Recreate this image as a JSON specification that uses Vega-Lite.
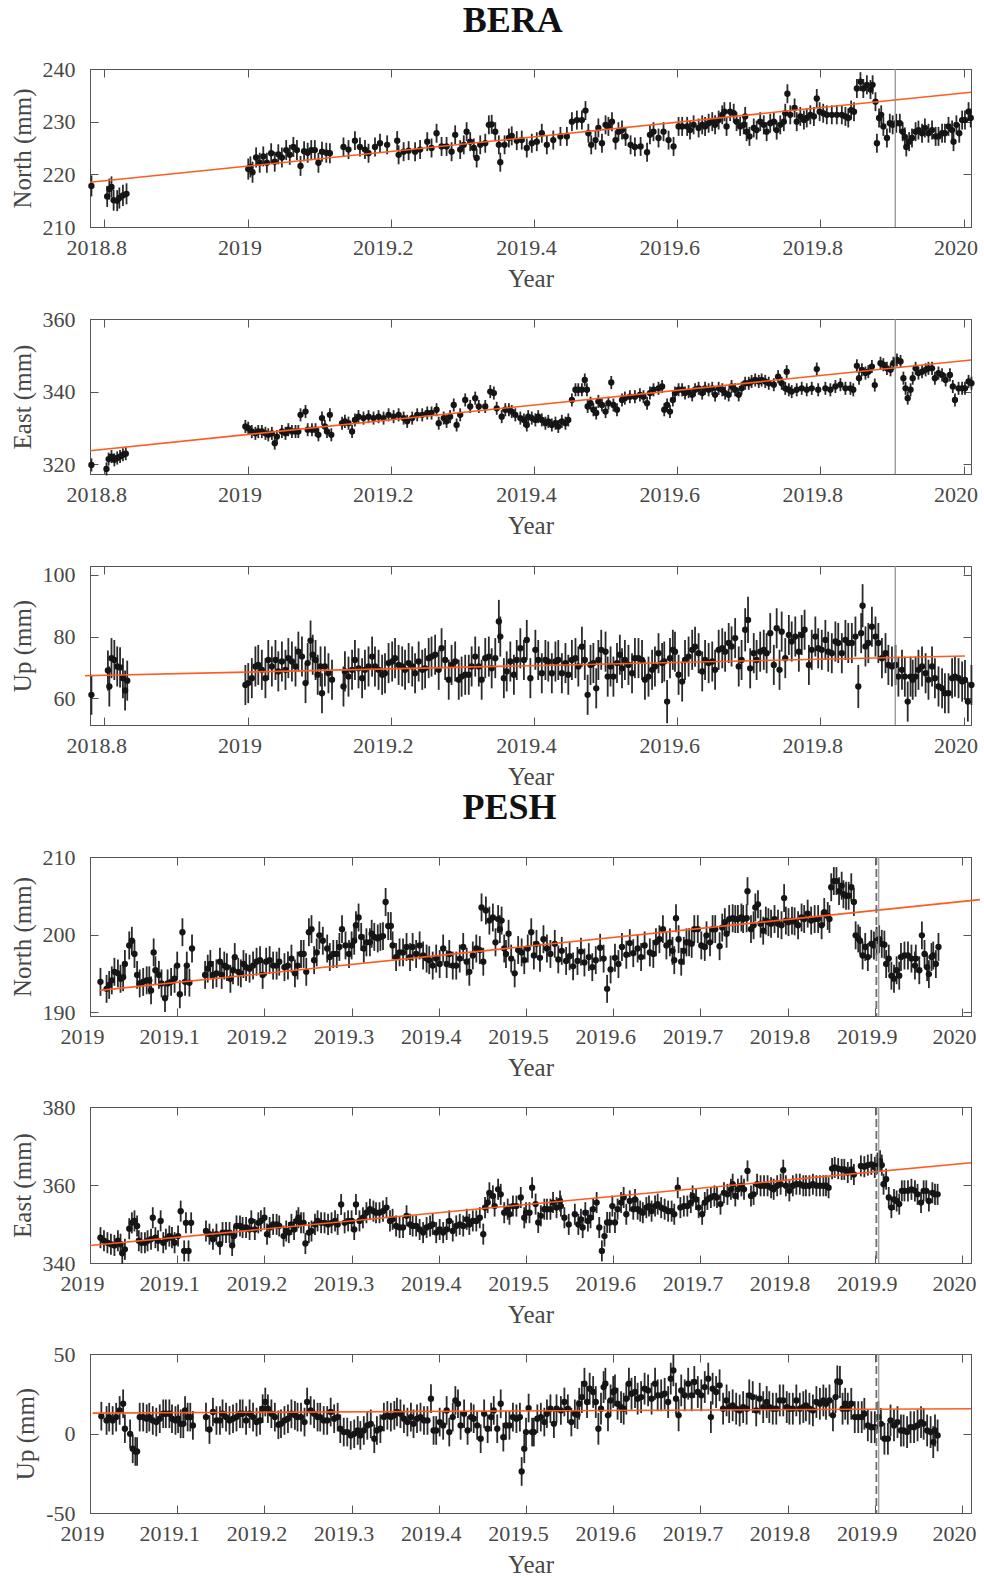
{
  "$schema": "https://vega.github.io/schema/vega-lite/v6.json",
  "background": "white",
  "padding": {"left": 9, "top": 2, "right": 0, "bottom": 0},
  "config": {
    "font": "Liberation Serif",
    "view": {"stroke": "#555555", "strokeWidth": 1},
    "axis": {
      "labelFont": "Liberation Serif", "titleFont": "Liberation Serif",
      "labelFontSize": 22, "titleFontSize": 25, "titleFontWeight": "normal",
      "labelColor": "#474747", "titleColor": "#474747",
      "domainColor": "#555555", "tickColor": "#555555", "tickWidth": 1, "tickSize": -8,
      "grid": false, "labelFlush": false, "labelOverlap": false, "labelBound": false
    },
    "axisX": {"labelPadding": 18, "labelOffset": -8, "titlePadding": 8},
    "axisY": {"labelPadding": 23, "titlePadding": 7},
    "title": {"font": "Liberation Serif", "fontSize": 36, "fontWeight": "bold", "color": "#111111", "anchor": "middle"}
  },
  "datasets": {
    "bn": [
      {"t":2018.782,"v":217.8,"s":2},{"t":2018.804,"v":215.8,"s":2},{"t":2018.807,"v":217.2,"s":2},{"t":2018.81,"v":217.6,"s":2},{"t":2018.813,"v":215.1,"s":2},{"t":2018.818,"v":215.0,"s":2},{"t":2018.821,"v":215.5,"s":2},{"t":2018.826,"v":216.0,"s":2},{"t":2018.831,"v":216.3,"s":2},
      {"t":2019.001,"v":221.0,"s":2},{"t":2019.004,"v":221.4,"s":2},{"t":2019.007,"v":220.4,"s":2},{"t":2019.012,"v":223.2,"s":1.9},{"t":2019.017,"v":222.2,"s":1.9},{"t":2019.022,"v":223.4,"s":1.9},{"t":2019.027,"v":222.2,"s":1.9},{"t":2019.033,"v":224.0,"s":1.9},{"t":2019.038,"v":222.4,"s":1.9},{"t":2019.043,"v":223.8,"s":1.9},{"t":2019.048,"v":223.2,"s":1.9},{"t":2019.054,"v":224.6,"s":1.9},{"t":2019.059,"v":223.7,"s":1.9},{"t":2019.064,"v":225.2,"s":1.9},{"t":2019.069,"v":224.6,"s":1.9},{"t":2019.074,"v":221.6,"s":1.9},{"t":2019.079,"v":224.4,"s":1.9},{"t":2019.084,"v":224.1,"s":1.9},{"t":2019.089,"v":224.6,"s":1.9},{"t":2019.094,"v":224.6,"s":1.9},{"t":2019.099,"v":222.2,"s":1.9},{"t":2019.104,"v":224.3,"s":1.9},{"t":2019.11,"v":224.1,"s":1.9},{"t":2019.115,"v":224.0,"s":1.9},
      {"t":2019.134,"v":225.2,"s":1.8},{"t":2019.141,"v":224.7,"s":1.8},{"t":2019.15,"v":226.4,"s":1.8},{"t":2019.157,"v":225.2,"s":1.8},{"t":2019.164,"v":224.7,"s":1.8},{"t":2019.169,"v":224.0,"s":1.8},{"t":2019.178,"v":225.2,"s":1.8},{"t":2019.185,"v":225.9,"s":1.8},{"t":2019.195,"v":225.6,"s":1.8},{"t":2019.209,"v":226.4,"s":1.8},{"t":2019.211,"v":223.7,"s":1.8},{"t":2019.218,"v":224.3,"s":1.8},{"t":2019.225,"v":224.5,"s":1.8},{"t":2019.234,"v":224.3,"s":1.8},{"t":2019.241,"v":224.7,"s":1.8},{"t":2019.251,"v":226.2,"s":1.8},{"t":2019.257,"v":225.0,"s":1.8},{"t":2019.264,"v":227.8,"s":1.8},{"t":2019.271,"v":225.3,"s":1.8},{"t":2019.278,"v":225.3,"s":1.8},{"t":2019.285,"v":224.3,"s":1.8},{"t":2019.29,"v":227.5,"s":1.8},{"t":2019.297,"v":224.7,"s":1.8},{"t":2019.302,"v":225.6,"s":1.8},{"t":2019.306,"v":228.1,"s":1.8},{"t":2019.311,"v":226.2,"s":1.8},{"t":2019.316,"v":225.0,"s":1.8},{"t":2019.32,"v":223.1,"s":1.8},{"t":2019.325,"v":225.6,"s":1.8},{"t":2019.332,"v":225.9,"s":1.8},{"t":2019.337,"v":229.4,"s":1.8},{"t":2019.341,"v":229.5,"s":1.8},{"t":2019.346,"v":228.1,"s":1.8},{"t":2019.351,"v":225.6,"s":1.8},{"t":2019.353,"v":222.3,"s":1.8},{"t":2019.359,"v":225.6,"s":1.8},{"t":2019.365,"v":226.9,"s":1.8},{"t":2019.369,"v":227.3,"s":1.8},{"t":2019.376,"v":226.4,"s":1.8},{"t":2019.383,"v":226.5,"s":1.8},{"t":2019.39,"v":225.0,"s":1.8},{"t":2019.397,"v":225.9,"s":1.8},{"t":2019.404,"v":226.2,"s":1.8},{"t":2019.411,"v":227.8,"s":1.8},{"t":2019.418,"v":225.6,"s":1.8},{"t":2019.427,"v":226.5,"s":1.8},{"t":2019.437,"v":227.2,"s":1.8},{"t":2019.446,"v":227.2,"s":1.8},{"t":2019.453,"v":230.0,"s":1.8},{"t":2019.46,"v":230.3,"s":1.8},{"t":2019.467,"v":230.3,"s":1.8},{"t":2019.472,"v":232.1,"s":1.8},{"t":2019.476,"v":227.8,"s":1.8},{"t":2019.48,"v":225.6,"s":1.8},{"t":2019.486,"v":226.5,"s":1.8},{"t":2019.49,"v":228.8,"s":1.8},{"t":2019.495,"v":225.9,"s":1.8},{"t":2019.5,"v":229.4,"s":1.8},{"t":2019.504,"v":229.1,"s":1.8},{"t":2019.509,"v":230.0,"s":1.8},{"t":2019.514,"v":226.5,"s":1.8},{"t":2019.518,"v":228.1,"s":1.8},{"t":2019.523,"v":228.4,"s":1.8},{"t":2019.528,"v":227.2,"s":1.8},{"t":2019.535,"v":225.6,"s":1.8},{"t":2019.541,"v":225.2,"s":1.8},{"t":2019.549,"v":225.3,"s":1.8},{"t":2019.558,"v":224.2,"s":1.8},{"t":2019.562,"v":227.5,"s":1.8},{"t":2019.567,"v":228.1,"s":1.8},{"t":2019.574,"v":226.9,"s":1.8},{"t":2019.581,"v":228.1,"s":1.8},{"t":2019.588,"v":226.5,"s":1.8},{"t":2019.595,"v":225.3,"s":1.8},{"t":2019.602,"v":229.1,"s":1.8},
      {"t":2019.607,"v":229.1,"s":1.8},{"t":2019.614,"v":229.1,"s":1.8},{"t":2019.618,"v":228.4,"s":1.8},{"t":2019.623,"v":229.4,"s":1.8},{"t":2019.63,"v":228.8,"s":1.8},{"t":2019.635,"v":229.4,"s":1.8},{"t":2019.639,"v":229.1,"s":1.8},{"t":2019.644,"v":229.7,"s":1.8},{"t":2019.649,"v":230.0,"s":1.8},{"t":2019.653,"v":229.4,"s":1.8},{"t":2019.658,"v":230.3,"s":1.8},{"t":2019.663,"v":231.3,"s":1.8},{"t":2019.666,"v":231.9,"s":1.8},{"t":2019.669,"v":229.1,"s":1.8},{"t":2019.674,"v":231.9,"s":1.8},{"t":2019.679,"v":231.6,"s":1.8},{"t":2019.683,"v":230.0,"s":1.8},{"t":2019.688,"v":229.1,"s":1.8},{"t":2019.693,"v":229.4,"s":1.8},{"t":2019.695,"v":231.0,"s":1.8},{"t":2019.697,"v":228.1,"s":1.8},{"t":2019.701,"v":227.2,"s":1.8},{"t":2019.707,"v":228.8,"s":1.8},{"t":2019.711,"v":228.4,"s":1.8},{"t":2019.716,"v":230.0,"s":1.8},{"t":2019.721,"v":229.4,"s":1.8},{"t":2019.725,"v":228.1,"s":1.8},{"t":2019.73,"v":229.7,"s":1.8},{"t":2019.735,"v":230.0,"s":1.8},{"t":2019.739,"v":228.4,"s":1.8},{"t":2019.744,"v":229.4,"s":1.8},{"t":2019.749,"v":230.0,"s":1.8},{"t":2019.751,"v":231.6,"s":1.8},{"t":2019.754,"v":235.3,"s":1.8},{"t":2019.758,"v":231.3,"s":1.8},{"t":2019.764,"v":232.6,"s":1.8},{"t":2019.767,"v":230.0,"s":1.8},{"t":2019.772,"v":231.0,"s":1.8},{"t":2019.777,"v":230.3,"s":1.8},{"t":2019.781,"v":230.7,"s":1.8},{"t":2019.786,"v":231.3,"s":1.8},{"t":2019.791,"v":231.0,"s":1.8},{"t":2019.795,"v":234.4,"s":1.8},{"t":2019.799,"v":231.9,"s":1.8},{"t":2019.804,"v":231.6,"s":1.8},{"t":2019.809,"v":231.3,"s":1.8},{"t":2019.816,"v":231.3,"s":1.8},{"t":2019.823,"v":231.3,"s":1.8},{"t":2019.83,"v":231.3,"s":1.8},{"t":2019.835,"v":231.0,"s":1.8},{"t":2019.839,"v":230.7,"s":1.8},{"t":2019.843,"v":232.2,"s":1.8},{"t":2019.847,"v":231.9,"s":1.8},{"t":2019.851,"v":236.3,"s":1.8},{"t":2019.856,"v":237.6,"s":1.8},{"t":2019.86,"v":236.3,"s":1.8},{"t":2019.865,"v":237.0,"s":1.8},{"t":2019.87,"v":236.1,"s":1.8},{"t":2019.873,"v":237.0,"s":1.8},{"t":2019.877,"v":233.8,"s":1.8},{"t":2019.879,"v":225.9,"s":1.8},{"t":2019.882,"v":230.7,"s":1.8},{"t":2019.885,"v":231.3,"s":1.8},{"t":2019.888,"v":229.1,"s":1.8},{"t":2019.893,"v":226.9,"s":1.8},{"t":2019.897,"v":229.7,"s":1.8},{"t":2019.901,"v":229.4,"s":1.8},{"t":2019.906,"v":229.7,"s":1.8},{"t":2019.911,"v":229.7,"s":1.8},{"t":2019.915,"v":228.1,"s":1.8},{"t":2019.918,"v":227.1,"s":1.8},{"t":2019.92,"v":225.2,"s":1.8},{"t":2019.924,"v":226.2,"s":1.8},{"t":2019.928,"v":226.9,"s":1.8},{"t":2019.933,"v":228.1,"s":1.8},{"t":2019.937,"v":228.4,"s":1.8},{"t":2019.942,"v":227.8,"s":1.8},{"t":2019.946,"v":228.8,"s":1.8},{"t":2019.951,"v":227.8,"s":1.8},{"t":2019.956,"v":228.4,"s":1.8},{"t":2019.961,"v":227.2,"s":1.8},{"t":2019.965,"v":227.2,"s":1.8},{"t":2019.97,"v":227.8,"s":1.8},{"t":2019.974,"v":227.8,"s":1.8},{"t":2019.979,"v":229.1,"s":1.8},{"t":2019.984,"v":228.4,"s":1.8},{"t":2019.986,"v":226.2,"s":1.8},{"t":2019.99,"v":229.4,"s":1.8},{"t":2019.994,"v":227.8,"s":1.8},{"t":2019.998,"v":230.3,"s":1.8},{"t":2020.002,"v":230.3,"s":1.8},{"t":2020.007,"v":231.9,"s":1.8},{"t":2020.01,"v":230.7,"s":1.8}
    ],
    "be": [
      {"t":2018.782,"v":319.8,"s":1.8},{"t":2018.803,"v":318.7,"s":1.8},{"t":2018.806,"v":321.4,"s":1.8},{"t":2018.81,"v":322.1,"s":1.8},{"t":2018.814,"v":321.2,"s":1.8},{"t":2018.818,"v":321.7,"s":1.8},{"t":2018.822,"v":322.1,"s":1.8},{"t":2018.826,"v":322.6,"s":1.8},{"t":2018.83,"v":322.9,"s":1.8},
      {"t":2018.997,"v":330.4,"s":1.8},{"t":2019.001,"v":329.9,"s":1.8},{"t":2019.006,"v":329.0,"s":1.8},{"t":2019.011,"v":328.5,"s":1.8},{"t":2019.015,"v":329.0,"s":1.8},{"t":2019.02,"v":329.0,"s":1.8},{"t":2019.025,"v":328.5,"s":1.8},{"t":2019.029,"v":328.1,"s":1.8},{"t":2019.034,"v":328.5,"s":1.8},{"t":2019.038,"v":325.8,"s":1.8},{"t":2019.041,"v":327.6,"s":1.8},{"t":2019.048,"v":329.0,"s":1.8},{"t":2019.053,"v":328.5,"s":1.8},{"t":2019.057,"v":329.5,"s":1.8},{"t":2019.062,"v":329.0,"s":1.8},{"t":2019.067,"v":329.0,"s":1.8},{"t":2019.071,"v":329.0,"s":1.8},{"t":2019.074,"v":333.6,"s":1.8},{"t":2019.081,"v":334.5,"s":1.8},{"t":2019.084,"v":329.5,"s":1.8},{"t":2019.09,"v":329.5,"s":1.8},{"t":2019.095,"v":329.5,"s":1.8},{"t":2019.099,"v":328.1,"s":1.8},{"t":2019.104,"v":332.7,"s":1.8},{"t":2019.108,"v":330.4,"s":1.8},{"t":2019.111,"v":329.0,"s":1.8},{"t":2019.115,"v":333.6,"s":1.8},{"t":2019.117,"v":328.1,"s":1.8},
      {"t":2019.132,"v":331.3,"s":1.8},{"t":2019.136,"v":331.8,"s":1.8},{"t":2019.141,"v":331.3,"s":1.8},{"t":2019.146,"v":329.0,"s":1.8},{"t":2019.15,"v":332.2,"s":1.8},{"t":2019.155,"v":333.1,"s":1.8},{"t":2019.162,"v":332.7,"s":1.8},{"t":2019.169,"v":333.1,"s":1.8},{"t":2019.176,"v":332.7,"s":1.8},{"t":2019.183,"v":333.1,"s":1.8},{"t":2019.19,"v":332.7,"s":1.8},{"t":2019.197,"v":333.6,"s":1.8},{"t":2019.204,"v":333.1,"s":1.8},{"t":2019.211,"v":333.6,"s":1.8},{"t":2019.218,"v":332.7,"s":1.8},{"t":2019.223,"v":331.8,"s":1.8},{"t":2019.23,"v":332.7,"s":1.8},{"t":2019.237,"v":333.6,"s":1.8},{"t":2019.244,"v":333.6,"s":1.8},{"t":2019.251,"v":334.1,"s":1.8},{"t":2019.257,"v":334.1,"s":1.8},{"t":2019.264,"v":335.0,"s":1.8},{"t":2019.267,"v":331.3,"s":1.8},{"t":2019.274,"v":332.7,"s":1.8},{"t":2019.278,"v":331.8,"s":1.8},{"t":2019.283,"v":333.1,"s":1.8},{"t":2019.288,"v":336.3,"s":1.8},{"t":2019.292,"v":330.8,"s":1.8},{"t":2019.297,"v":333.6,"s":1.8},{"t":2019.304,"v":337.7,"s":1.8},{"t":2019.311,"v":335.9,"s":1.8},{"t":2019.318,"v":338.2,"s":1.8},{"t":2019.323,"v":335.9,"s":1.8},{"t":2019.332,"v":335.9,"s":1.8},{"t":2019.339,"v":340.0,"s":1.8},{"t":2019.344,"v":339.6,"s":1.8},{"t":2019.348,"v":335.4,"s":1.8},{"t":2019.355,"v":333.1,"s":1.8},{"t":2019.36,"v":335.0,"s":1.8},{"t":2019.365,"v":335.0,"s":1.8},{"t":2019.369,"v":334.5,"s":1.8},{"t":2019.374,"v":333.6,"s":1.8},{"t":2019.381,"v":332.7,"s":1.8},{"t":2019.386,"v":332.2,"s":1.8},{"t":2019.39,"v":330.8,"s":1.8},
      {"t":2019.392,"v":333.1,"s":1.8},{"t":2019.397,"v":332.7,"s":1.8},{"t":2019.402,"v":332.2,"s":1.8},{"t":2019.406,"v":333.1,"s":1.8},{"t":2019.411,"v":332.2,"s":1.8},{"t":2019.416,"v":331.3,"s":1.8},{"t":2019.42,"v":331.8,"s":1.8},{"t":2019.425,"v":330.8,"s":1.8},{"t":2019.43,"v":331.3,"s":1.8},{"t":2019.434,"v":330.4,"s":1.8},{"t":2019.439,"v":331.8,"s":1.8},{"t":2019.444,"v":331.3,"s":1.8},{"t":2019.448,"v":332.2,"s":1.8},{"t":2019.453,"v":337.7,"s":1.8},{"t":2019.458,"v":340.5,"s":1.8},{"t":2019.462,"v":340.5,"s":1.8},{"t":2019.467,"v":340.5,"s":1.8},{"t":2019.471,"v":343.2,"s":1.8},{"t":2019.474,"v":340.5,"s":1.8},{"t":2019.475,"v":335.9,"s":1.8},{"t":2019.479,"v":336.8,"s":1.8},{"t":2019.483,"v":335.0,"s":1.8},{"t":2019.487,"v":334.1,"s":1.8},{"t":2019.49,"v":337.3,"s":1.8},{"t":2019.495,"v":336.3,"s":1.8},{"t":2019.5,"v":334.5,"s":1.8},{"t":2019.504,"v":336.8,"s":1.8},{"t":2019.508,"v":342.5,"s":1.8},{"t":2019.511,"v":336.3,"s":1.8},{"t":2019.516,"v":335.0,"s":1.8},{"t":2019.523,"v":337.7,"s":1.8},{"t":2019.527,"v":338.2,"s":1.8},{"t":2019.534,"v":338.6,"s":1.8},{"t":2019.541,"v":338.6,"s":1.8},{"t":2019.548,"v":339.1,"s":1.8},{"t":2019.553,"v":338.6,"s":1.8},{"t":2019.558,"v":336.8,"s":1.8},{"t":2019.562,"v":339.6,"s":1.8},{"t":2019.567,"v":340.5,"s":1.8},{"t":2019.574,"v":340.9,"s":1.8},{"t":2019.579,"v":341.4,"s":1.8},{"t":2019.582,"v":335.0,"s":1.8},{"t":2019.586,"v":336.3,"s":1.8},{"t":2019.59,"v":334.5,"s":1.8},{"t":2019.594,"v":337.7,"s":1.8},{"t":2019.597,"v":339.6,"s":1.8},{"t":2019.602,"v":340.5,"s":1.8},{"t":2019.607,"v":340.5,"s":1.8},{"t":2019.611,"v":339.6,"s":1.8},{"t":2019.616,"v":340.0,"s":1.8},{"t":2019.621,"v":339.1,"s":1.8},{"t":2019.625,"v":340.5,"s":1.8},{"t":2019.63,"v":340.9,"s":1.8},{"t":2019.635,"v":339.6,"s":1.8},{"t":2019.639,"v":340.9,"s":1.8},{"t":2019.644,"v":340.5,"s":1.8},{"t":2019.649,"v":340.9,"s":1.8},{"t":2019.653,"v":339.1,"s":1.8},{"t":2019.658,"v":340.9,"s":1.8},{"t":2019.663,"v":340.5,"s":1.8},{"t":2019.667,"v":339.6,"s":1.8},{"t":2019.672,"v":339.1,"s":1.8},{"t":2019.676,"v":341.4,"s":1.8},{"t":2019.681,"v":340.5,"s":1.8},{"t":2019.686,"v":339.1,"s":1.8},{"t":2019.69,"v":340.9,"s":1.8},{"t":2019.695,"v":342.3,"s":1.8},{"t":2019.7,"v":342.3,"s":1.8},{"t":2019.704,"v":342.8,"s":1.8},{"t":2019.709,"v":343.2,"s":1.8},{"t":2019.714,"v":342.8,"s":1.8},{"t":2019.718,"v":343.2,"s":1.8},{"t":2019.723,"v":342.8,"s":1.8},{"t":2019.728,"v":342.3,"s":1.8},{"t":2019.735,"v":341.9,"s":1.8},{"t":2019.741,"v":344.1,"s":1.8},{"t":2019.746,"v":342.3,"s":1.8},{"t":2019.751,"v":340.9,"s":1.8},{"t":2019.753,"v":345.5,"s":1.8},{"t":2019.756,"v":340.5,"s":1.8},{"t":2019.76,"v":340.0,"s":1.8},{"t":2019.767,"v":340.5,"s":1.8},{"t":2019.774,"v":340.9,"s":1.8},{"t":2019.781,"v":340.5,"s":1.8},{"t":2019.788,"v":340.9,"s":1.8},{"t":2019.795,"v":346.2,"s":1.8},{"t":2019.797,"v":340.5,"s":1.8},{"t":2019.807,"v":340.9,"s":1.8},{"t":2019.814,"v":340.5,"s":1.8},{"t":2019.821,"v":341.4,"s":1.8},{"t":2019.828,"v":341.9,"s":1.8},{"t":2019.835,"v":340.9,"s":1.8},{"t":2019.842,"v":340.9,"s":1.8},{"t":2019.846,"v":340.5,"s":1.8},{"t":2019.851,"v":347.1,"s":1.8},{"t":2019.854,"v":343.7,"s":1.8},{"t":2019.858,"v":346.0,"s":1.8},{"t":2019.863,"v":345.1,"s":1.8},{"t":2019.867,"v":345.5,"s":1.8},{"t":2019.872,"v":346.9,"s":1.8},{"t":2019.876,"v":341.8,"s":1.8},{"t":2019.884,"v":347.8,"s":1.8},{"t":2019.888,"v":347.4,"s":1.8},{"t":2019.893,"v":346.4,"s":1.8},{"t":2019.898,"v":346.0,"s":1.8},{"t":2019.902,"v":347.8,"s":1.8},{"t":2019.907,"v":348.7,"s":1.8},{"t":2019.912,"v":348.3,"s":1.8},{"t":2019.916,"v":343.7,"s":1.8},{"t":2019.919,"v":340.9,"s":1.8},{"t":2019.922,"v":338.2,"s":1.8},{"t":2019.926,"v":340.5,"s":1.8},{"t":2019.929,"v":343.7,"s":1.8},{"t":2019.933,"v":346.4,"s":1.8},{"t":2019.937,"v":345.1,"s":1.8},{"t":2019.942,"v":345.5,"s":1.8},{"t":2019.947,"v":346.0,"s":1.8},{"t":2019.951,"v":346.4,"s":1.8},{"t":2019.956,"v":346.4,"s":1.8},{"t":2019.96,"v":343.7,"s":1.8},{"t":2019.965,"v":345.1,"s":1.8},{"t":2019.97,"v":344.6,"s":1.8},{"t":2019.975,"v":343.2,"s":1.8},{"t":2019.981,"v":344.6,"s":1.8},{"t":2019.985,"v":341.4,"s":1.8},{"t":2019.988,"v":337.7,"s":1.8},{"t":2019.993,"v":340.9,"s":1.8},{"t":2019.998,"v":340.9,"s":1.8},{"t":2020.002,"v":340.9,"s":1.8},{"t":2020.007,"v":342.8,"s":1.8},{"t":2020.011,"v":342.3,"s":1.8}
    ],
    "bu": [
      {"t":2018.782,"v":61.1,"s":6.5},{"t":2018.805,"v":69.0,"s":6.5},{"t":2018.807,"v":63.8,"s":6.5},{"t":2018.81,"v":73.0,"s":6.5},{"t":2018.814,"v":72.4,"s":6.5},{"t":2018.818,"v":70.3,"s":6.5},{"t":2018.822,"v":70.0,"s":6.5},{"t":2018.826,"v":66.5,"s":6.5},{"t":2018.829,"v":62.5,"s":6.5},{"t":2018.832,"v":65.7,"s":6.5},
      {"t":2018.997,"v":64.3,"s":6.5},{"t":2019.001,"v":64.9,"s":6.5},{"t":2019.006,"v":66.5,"s":6.5},{"t":2019.011,"v":70.3,"s":6.5},{"t":2019.015,"v":70.8,"s":6.5},{"t":2019.02,"v":69.2,"s":6.5},{"t":2019.025,"v":66.5,"s":6.5},{"t":2019.029,"v":72.4,"s":6.5},{"t":2019.034,"v":70.3,"s":6.5},{"t":2019.039,"v":72.4,"s":6.5},{"t":2019.043,"v":68.7,"s":6.5},{"t":2019.048,"v":71.9,"s":6.5},{"t":2019.053,"v":69.2,"s":6.5},{"t":2019.057,"v":73.0,"s":6.5},{"t":2019.062,"v":71.9,"s":6.5},{"t":2019.067,"v":70.3,"s":6.5},{"t":2019.071,"v":75.1,"s":6.5},{"t":2019.076,"v":73.5,"s":6.5},{"t":2019.081,"v":64.9,"s":6.5},{"t":2019.084,"v":71.4,"s":6.5},{"t":2019.088,"v":78.7,"s":6.5},{"t":2019.091,"v":74.1,"s":6.5},{"t":2019.095,"v":72.4,"s":6.5},{"t":2019.098,"v":67.6,"s":6.5},{"t":2019.102,"v":70.3,"s":6.5},{"t":2019.104,"v":61.6,"s":6.5},{"t":2019.108,"v":70.3,"s":6.5},{"t":2019.113,"v":68.1,"s":6.5},{"t":2019.118,"v":66.0,"s":6.5},
      {"t":2019.134,"v":63.8,"s":6.5},{"t":2019.136,"v":68.7,"s":6.5},{"t":2019.141,"v":67.0,"s":6.5},{"t":2019.146,"v":69.2,"s":6.5},{"t":2019.15,"v":72.4,"s":6.5},{"t":2019.155,"v":69.7,"s":6.5},{"t":2019.16,"v":66.5,"s":6.5},{"t":2019.164,"v":69.2,"s":6.5},{"t":2019.169,"v":70.3,"s":6.5},{"t":2019.174,"v":73.5,"s":6.5},{"t":2019.178,"v":70.3,"s":6.5},{"t":2019.183,"v":69.2,"s":6.5},{"t":2019.188,"v":67.6,"s":6.5},{"t":2019.192,"v":68.1,"s":6.5},{"t":2019.197,"v":71.4,"s":6.5},{"t":2019.202,"v":71.9,"s":6.5},{"t":2019.206,"v":73.0,"s":6.5},{"t":2019.211,"v":70.8,"s":6.5},{"t":2019.216,"v":70.3,"s":6.5},{"t":2019.22,"v":69.2,"s":6.5},{"t":2019.225,"v":71.4,"s":6.5},{"t":2019.23,"v":70.3,"s":6.5},{"t":2019.234,"v":68.1,"s":6.5},{"t":2019.239,"v":71.9,"s":6.5},{"t":2019.244,"v":69.2,"s":6.5},{"t":2019.248,"v":69.7,"s":6.5},{"t":2019.253,"v":73.0,"s":6.5},{"t":2019.257,"v":73.5,"s":6.5},{"t":2019.262,"v":74.1,"s":6.5},{"t":2019.267,"v":69.2,"s":6.5},{"t":2019.271,"v":76.2,"s":6.5},{"t":2019.276,"v":72.4,"s":6.5},{"t":2019.281,"v":66.0,"s":6.5},{"t":2019.285,"v":70.8,"s":6.5},{"t":2019.29,"v":71.9,"s":6.5},{"t":2019.295,"v":66.0,"s":6.5},{"t":2019.299,"v":67.0,"s":6.5},{"t":2019.304,"v":67.6,"s":6.5},{"t":2019.309,"v":67.6,"s":6.5},{"t":2019.313,"v":70.3,"s":6.5},{"t":2019.318,"v":73.5,"s":6.5},{"t":2019.323,"v":70.3,"s":6.5},{"t":2019.327,"v":66.0,"s":6.5},{"t":2019.332,"v":73.0,"s":6.5},{"t":2019.337,"v":73.5,"s":6.5},{"t":2019.341,"v":69.7,"s":6.5},{"t":2019.346,"v":73.0,"s":6.5},{"t":2019.351,"v":84.9,"s":7},{"t":2019.353,"v":80.0,"s":6.5},{"t":2019.358,"v":66.5,"s":6.5},{"t":2019.362,"v":68.7,"s":6.5},{"t":2019.367,"v":71.9,"s":6.5},{"t":2019.372,"v":67.6,"s":6.5},{"t":2019.376,"v":72.4,"s":6.5},{"t":2019.381,"v":76.2,"s":6.5},{"t":2019.386,"v":72.4,"s":6.5},{"t":2019.39,"v":78.9,"s":6.5},{"t":2019.395,"v":66.5,"s":6.5},
      {"t":2019.402,"v":75.7,"s":6.5},{"t":2019.406,"v":72.4,"s":6.5},{"t":2019.411,"v":68.1,"s":6.5},{"t":2019.416,"v":72.4,"s":6.5},{"t":2019.42,"v":71.9,"s":6.5},{"t":2019.425,"v":68.1,"s":6.5},{"t":2019.43,"v":71.9,"s":6.5},{"t":2019.434,"v":72.4,"s":6.5},{"t":2019.439,"v":68.1,"s":6.5},{"t":2019.444,"v":71.4,"s":6.5},{"t":2019.448,"v":67.6,"s":6.5},{"t":2019.453,"v":72.4,"s":6.5},{"t":2019.458,"v":73.0,"s":6.5},{"t":2019.462,"v":70.3,"s":6.5},{"t":2019.467,"v":76.7,"s":6.5},{"t":2019.471,"v":72.4,"s":6.5},{"t":2019.475,"v":61.1,"s":6.5},{"t":2019.479,"v":70.8,"s":6.5},{"t":2019.483,"v":71.4,"s":6.5},{"t":2019.487,"v":63.2,"s":6.5},{"t":2019.49,"v":72.4,"s":6.5},{"t":2019.494,"v":75.7,"s":6.5},{"t":2019.5,"v":75.1,"s":6.5},{"t":2019.503,"v":67.0,"s":6.5},{"t":2019.507,"v":70.3,"s":6.5},{"t":2019.511,"v":67.0,"s":6.5},{"t":2019.516,"v":71.4,"s":6.5},{"t":2019.52,"v":74.1,"s":6.5},{"t":2019.523,"v":69.7,"s":6.5},{"t":2019.527,"v":72.4,"s":6.5},{"t":2019.532,"v":70.8,"s":6.5},{"t":2019.537,"v":68.1,"s":6.5},{"t":2019.541,"v":73.0,"s":6.5},{"t":2019.546,"v":73.0,"s":6.5},{"t":2019.551,"v":72.4,"s":6.5},{"t":2019.555,"v":66.0,"s":6.5},{"t":2019.56,"v":67.0,"s":6.5},{"t":2019.565,"v":69.2,"s":6.5},{"t":2019.569,"v":70.3,"s":6.5},{"t":2019.574,"v":74.6,"s":6.5},{"t":2019.579,"v":71.4,"s":6.5},{"t":2019.582,"v":71.9,"s":6.5},{"t":2019.586,"v":58.9,"s":7},{"t":2019.59,"v":73.0,"s":6.5},{"t":2019.594,"v":75.7,"s":6.5},{"t":2019.597,"v":75.1,"s":6.5},{"t":2019.602,"v":67.6,"s":6.5},{"t":2019.607,"v":65.4,"s":6.5},{"t":2019.611,"v":72.4,"s":6.5},{"t":2019.616,"v":73.5,"s":6.5},{"t":2019.621,"v":75.7,"s":6.5},{"t":2019.625,"v":76.7,"s":6.5},{"t":2019.63,"v":74.6,"s":6.5},{"t":2019.635,"v":68.7,"s":6.5},{"t":2019.639,"v":72.4,"s":6.5},{"t":2019.644,"v":71.4,"s":6.5},{"t":2019.649,"v":71.9,"s":6.5},{"t":2019.653,"v":69.2,"s":6.5},{"t":2019.658,"v":75.7,"s":6.5},{"t":2019.663,"v":76.2,"s":6.5},{"t":2019.667,"v":75.1,"s":6.5},{"t":2019.672,"v":77.9,"s":6.5},{"t":2019.676,"v":76.8,"s":6.5},{"t":2019.681,"v":79.5,"s":6.5},{"t":2019.686,"v":70.3,"s":6.5},{"t":2019.69,"v":72.4,"s":6.5},{"t":2019.695,"v":82.2,"s":7},{"t":2019.699,"v":85.4,"s":7.5},{"t":2019.702,"v":69.7,"s":6.5},{"t":2019.707,"v":74.6,"s":6.5},{"t":2019.711,"v":72.4,"s":6.5},{"t":2019.716,"v":75.1,"s":6.5},{"t":2019.721,"v":75.7,"s":6.5},{"t":2019.725,"v":74.6,"s":6.5},{"t":2019.73,"v":81.1,"s":6.5},{"t":2019.735,"v":70.8,"s":6.5},{"t":2019.739,"v":82.7,"s":6.5},{"t":2019.743,"v":69.2,"s":6.5},{"t":2019.746,"v":81.6,"s":6.5},{"t":2019.751,"v":73.0,"s":6.5},{"t":2019.756,"v":80.5,"s":6.5},{"t":2019.76,"v":78.4,"s":6.5},{"t":2019.765,"v":80.0,"s":6.5},{"t":2019.77,"v":75.1,"s":6.5},{"t":2019.774,"v":80.5,"s":6.5},{"t":2019.778,"v":82.2,"s":6.5},{"t":2019.784,"v":70.8,"s":6.5},{"t":2019.788,"v":75.7,"s":6.5},{"t":2019.793,"v":80.0,"s":6.5},{"t":2019.797,"v":76.2,"s":6.5},{"t":2019.802,"v":75.7,"s":6.5},{"t":2019.807,"v":78.9,"s":6.5},{"t":2019.811,"v":75.1,"s":6.5},{"t":2019.816,"v":74.6,"s":6.5},{"t":2019.821,"v":78.4,"s":6.5},{"t":2019.825,"v":77.9,"s":6.5},{"t":2019.83,"v":74.6,"s":6.5},{"t":2019.835,"v":78.9,"s":6.5},{"t":2019.839,"v":77.9,"s":6.5},{"t":2019.844,"v":77.9,"s":6.5},{"t":2019.849,"v":80.0,"s":6.5},{"t":2019.853,"v":63.8,"s":7},{"t":2019.857,"v":81.1,"s":6.5},{"t":2019.859,"v":90.0,"s":7},{"t":2019.863,"v":76.8,"s":6.5},{"t":2019.867,"v":77.9,"s":6.5},{"t":2019.872,"v":83.2,"s":6.5},{"t":2019.877,"v":80.0,"s":6.5},{"t":2019.881,"v":77.9,"s":6.5},{"t":2019.886,"v":73.0,"s":6.5},{"t":2019.891,"v":74.6,"s":6.5},{"t":2019.895,"v":70.8,"s":6.5},{"t":2019.9,"v":70.3,"s":6.5},{"t":2019.905,"v":70.8,"s":6.5},{"t":2019.909,"v":67.0,"s":6.5},{"t":2019.914,"v":69.2,"s":6.5},{"t":2019.918,"v":67.0,"s":6.5},{"t":2019.922,"v":58.9,"s":6.5},{"t":2019.926,"v":67.0,"s":6.5},{"t":2019.929,"v":66.0,"s":6.5},{"t":2019.933,"v":67.0,"s":6.5},{"t":2019.937,"v":69.2,"s":6.5},{"t":2019.942,"v":70.3,"s":6.5},{"t":2019.947,"v":68.1,"s":6.5},{"t":2019.951,"v":66.0,"s":6.5},{"t":2019.956,"v":70.3,"s":6.5},{"t":2019.96,"v":66.5,"s":6.5},{"t":2019.965,"v":63.8,"s":6.5},{"t":2019.97,"v":63.2,"s":6.5},{"t":2019.974,"v":61.6,"s":6.5},{"t":2019.979,"v":61.6,"s":6.5},{"t":2019.984,"v":66.5,"s":6.5},{"t":2019.988,"v":67.0,"s":6.5},{"t":2019.993,"v":66.5,"s":6.5},{"t":2019.998,"v":65.4,"s":6.5},{"t":2020.002,"v":65.9,"s":6.5},{"t":2020.006,"v":58.9,"s":6.5},{"t":2020.011,"v":64.3,"s":6.5}
    ],
    "pn": [
      {"t":2019.012,"v":193.9,"s":1.8},{"t":2019.019,"v":193.0,"s":1.8},{"t":2019.022,"v":193.5,"s":1.8},{"t":2019.025,"v":194.1,"s":1.8},{"t":2019.028,"v":195.2,"s":1.8},{"t":2019.032,"v":195.0,"s":1.8},{"t":2019.035,"v":194.3,"s":1.8},{"t":2019.038,"v":194.5,"s":1.8},{"t":2019.04,"v":196.2,"s":1.8},{"t":2019.045,"v":198.6,"s":1.8},{"t":2019.048,"v":199.2,"s":1.8},{"t":2019.051,"v":197.5,"s":1.8},{"t":2019.054,"v":194.8,"s":1.8},{"t":2019.057,"v":193.7,"s":1.8},{"t":2019.061,"v":193.9,"s":1.8},{"t":2019.065,"v":194.1,"s":1.8},{"t":2019.068,"v":194.1,"s":1.8},{"t":2019.07,"v":192.8,"s":1.8},{"t":2019.073,"v":197.7,"s":1.8},{"t":2019.075,"v":195.4,"s":1.8},{"t":2019.079,"v":194.8,"s":1.8},{"t":2019.082,"v":193.7,"s":1.8},{"t":2019.086,"v":191.8,"s":1.8},{"t":2019.089,"v":193.7,"s":1.8},{"t":2019.093,"v":193.9,"s":1.8},{"t":2019.097,"v":194.3,"s":1.8},{"t":2019.1,"v":196.0,"s":1.8},{"t":2019.103,"v":192.3,"s":1.8},{"t":2019.106,"v":200.3,"s":1.8},{"t":2019.109,"v":193.9,"s":1.8},{"t":2019.111,"v":196.0,"s":1.8},{"t":2019.114,"v":193.8,"s":1.8},{"t":2019.117,"v":198.2,"s":1.8},
      {"t":2019.132,"v":194.8,"s":1.8},{"t":2019.135,"v":195.6,"s":1.8},{"t":2019.138,"v":196.2,"s":1.8},{"t":2019.141,"v":194.8,"s":1.8},{"t":2019.145,"v":195.0,"s":1.8},{"t":2019.149,"v":196.5,"s":1.8},{"t":2019.151,"v":194.8,"s":1.8},{"t":2019.154,"v":196.0,"s":1.8},{"t":2019.157,"v":195.8,"s":1.8},{"t":2019.161,"v":194.3,"s":1.8},{"t":2019.164,"v":195.4,"s":1.8},{"t":2019.166,"v":197.1,"s":1.8},{"t":2019.17,"v":195.2,"s":1.8},{"t":2019.173,"v":195.0,"s":1.8},{"t":2019.176,"v":196.2,"s":1.8},{"t":2019.179,"v":195.8,"s":1.8},{"t":2019.183,"v":195.6,"s":1.8},{"t":2019.187,"v":196.0,"s":1.8},{"t":2019.191,"v":196.5,"s":1.8},{"t":2019.195,"v":196.7,"s":1.8},{"t":2019.198,"v":194.8,"s":1.8},{"t":2019.202,"v":196.5,"s":1.8},{"t":2019.206,"v":196.7,"s":1.8},{"t":2019.21,"v":196.0,"s":1.8},{"t":2019.214,"v":196.0,"s":1.8},{"t":2019.217,"v":196.5,"s":1.8},{"t":2019.223,"v":195.8,"s":1.8},{"t":2019.227,"v":196.0,"s":1.8},{"t":2019.231,"v":196.9,"s":1.8},{"t":2019.235,"v":195.0,"s":1.8},{"t":2019.238,"v":196.0,"s":1.8},{"t":2019.242,"v":197.5,"s":1.8},{"t":2019.245,"v":197.5,"s":1.8},{"t":2019.248,"v":195.2,"s":1.8},{"t":2019.251,"v":200.3,"s":1.8},{"t":2019.254,"v":200.7,"s":1.8},{"t":2019.257,"v":196.7,"s":1.8},{"t":2019.26,"v":197.7,"s":1.8},{"t":2019.263,"v":199.9,"s":1.8},{"t":2019.267,"v":199.2,"s":1.8},{"t":2019.272,"v":198.2,"s":1.8},{"t":2019.275,"v":197.1,"s":1.8},{"t":2019.279,"v":197.5,"s":1.8},{"t":2019.283,"v":197.5,"s":1.8},{"t":2019.286,"v":198.4,"s":1.8},{"t":2019.289,"v":200.7,"s":1.8},{"t":2019.293,"v":198.6,"s":1.8},{"t":2019.297,"v":197.5,"s":1.8},{"t":2019.3,"v":198.6,"s":1.8},{"t":2019.303,"v":199.2,"s":1.8},{"t":2019.305,"v":201.2,"s":1.8},{"t":2019.308,"v":202.2,"s":1.8},{"t":2019.311,"v":199.7,"s":1.8},{"t":2019.314,"v":198.2,"s":1.8},{"t":2019.317,"v":199.0,"s":1.8},{"t":2019.321,"v":199.0,"s":1.8},{"t":2019.323,"v":200.1,"s":1.8},{"t":2019.326,"v":199.7,"s":1.8},{"t":2019.33,"v":199.5,"s":1.8},{"t":2019.333,"v":199.7,"s":1.8},{"t":2019.336,"v":199.8,"s":1.8},{"t":2019.339,"v":204.2,"s":1.8},{"t":2019.342,"v":201.1,"s":1.8},{"t":2019.345,"v":201.1,"s":1.8},{"t":2019.347,"v":198.6,"s":1.8},{"t":2019.351,"v":197.1,"s":1.8},{"t":2019.355,"v":197.7,"s":1.8},{"t":2019.359,"v":197.7,"s":1.8},{"t":2019.363,"v":198.4,"s":1.8},{"t":2019.367,"v":197.1,"s":1.8},{"t":2019.37,"v":198.4,"s":1.8},{"t":2019.374,"v":197.5,"s":1.8},{"t":2019.378,"v":198.6,"s":1.8},{"t":2019.382,"v":197.3,"s":1.8},{"t":2019.386,"v":196.9,"s":1.8},{"t":2019.389,"v":196.7,"s":1.8},{"t":2019.393,"v":196.0,"s":1.8},{"t":2019.397,"v":196.9,"s":1.8},{"t":2019.401,"v":196.2,"s":1.8},{"t":2019.405,"v":198.2,"s":1.8},{"t":2019.409,"v":196.2,"s":1.8},{"t":2019.412,"v":197.5,"s":1.8},{"t":2019.416,"v":196.0,"s":1.8},{"t":2019.42,"v":196.0,"s":1.8},{"t":2019.424,"v":196.9,"s":1.8},{"t":2019.428,"v":198.4,"s":1.8},{"t":2019.432,"v":196.5,"s":1.8},{"t":2019.435,"v":195.2,"s":1.8},{"t":2019.439,"v":197.3,"s":1.8},{"t":2019.443,"v":198.2,"s":1.8},{"t":2019.447,"v":198.0,"s":1.8},{"t":2019.449,"v":203.5,"s":1.8},{"t":2019.451,"v":196.5,"s":1.8},{"t":2019.454,"v":203.1,"s":1.8},{"t":2019.458,"v":201.8,"s":1.8},{"t":2019.462,"v":202.2,"s":1.8},{"t":2019.465,"v":199.0,"s":1.8},{"t":2019.468,"v":202.0,"s":1.8},{"t":2019.47,"v":200.7,"s":1.8},{"t":2019.472,"v":201.8,"s":1.8},{"t":2019.475,"v":198.2,"s":1.8},{"t":2019.477,"v":197.5,"s":1.8},{"t":2019.48,"v":200.1,"s":1.8},{"t":2019.483,"v":196.9,"s":1.8},{"t":2019.487,"v":195.0,"s":1.8},{"t":2019.491,"v":198.0,"s":1.8},{"t":2019.495,"v":197.7,"s":1.8},{"t":2019.498,"v":196.7,"s":1.8},{"t":2019.502,"v":198.2,"s":1.8},{"t":2019.506,"v":200.3,"s":1.8},{"t":2019.509,"v":197.3,"s":1.8},
      {"t":2019.512,"v":198.8,"s":1.8},{"t":2019.516,"v":197.0,"s":1.8},{"t":2019.52,"v":199.4,"s":1.8},{"t":2019.524,"v":198.2,"s":1.8},{"t":2019.528,"v":197.5,"s":1.8},{"t":2019.533,"v":198.8,"s":1.8},{"t":2019.537,"v":196.8,"s":1.8},{"t":2019.541,"v":197.9,"s":1.8},{"t":2019.546,"v":196.6,"s":1.8},{"t":2019.55,"v":197.2,"s":1.8},{"t":2019.554,"v":195.9,"s":1.8},{"t":2019.559,"v":196.6,"s":1.8},{"t":2019.563,"v":197.8,"s":1.8},{"t":2019.567,"v":196.4,"s":1.8},{"t":2019.572,"v":197.1,"s":1.8},{"t":2019.576,"v":195.8,"s":1.8},{"t":2019.58,"v":196.7,"s":1.8},{"t":2019.585,"v":198.3,"s":1.8},{"t":2019.589,"v":196.9,"s":1.8},{"t":2019.593,"v":193.0,"s":1.8},{"t":2019.597,"v":195.5,"s":1.8},{"t":2019.602,"v":197.0,"s":1.8},{"t":2019.606,"v":196.2,"s":1.8},{"t":2019.61,"v":198.4,"s":1.8},{"t":2019.615,"v":197.4,"s":1.8},{"t":2019.619,"v":198.9,"s":1.8},{"t":2019.623,"v":197.6,"s":1.8},{"t":2019.628,"v":198.2,"s":1.8},{"t":2019.632,"v":197.1,"s":1.8},{"t":2019.636,"v":198.6,"s":1.8},
      {"t":2019.642,"v":197.7,"s":1.8},{"t":2019.646,"v":197.5,"s":1.8},{"t":2019.649,"v":199.0,"s":1.8},{"t":2019.653,"v":199.4,"s":1.8},{"t":2019.657,"v":200.7,"s":1.8},{"t":2019.661,"v":198.6,"s":1.8},{"t":2019.665,"v":199.0,"s":1.8},{"t":2019.668,"v":197.9,"s":1.8},{"t":2019.67,"v":196.7,"s":1.8},{"t":2019.672,"v":202.1,"s":1.8},{"t":2019.675,"v":199.4,"s":1.8},{"t":2019.678,"v":196.5,"s":1.8},{"t":2019.681,"v":197.9,"s":1.8},{"t":2019.684,"v":199.0,"s":1.8},{"t":2019.687,"v":199.0,"s":1.8},{"t":2019.69,"v":198.8,"s":1.8},{"t":2019.693,"v":200.7,"s":1.8},{"t":2019.697,"v":200.7,"s":1.8},{"t":2019.701,"v":198.6,"s":1.8},{"t":2019.705,"v":198.4,"s":1.8},{"t":2019.707,"v":199.9,"s":1.8},{"t":2019.711,"v":199.0,"s":1.8},{"t":2019.714,"v":200.7,"s":1.8},{"t":2019.717,"v":200.7,"s":1.8},{"t":2019.722,"v":198.5,"s":1.8},{"t":2019.725,"v":200.9,"s":1.8},{"t":2019.728,"v":201.6,"s":1.8},{"t":2019.73,"v":200.1,"s":1.8},{"t":2019.733,"v":202.0,"s":1.8},{"t":2019.737,"v":202.1,"s":1.8},{"t":2019.74,"v":202.0,"s":1.8},{"t":2019.743,"v":202.0,"s":1.8},{"t":2019.747,"v":202.2,"s":1.8},{"t":2019.749,"v":202.0,"s":1.8},{"t":2019.753,"v":202.1,"s":1.8},{"t":2019.754,"v":205.6,"s":1.8},{"t":2019.758,"v":200.7,"s":1.8},{"t":2019.761,"v":201.2,"s":1.8},{"t":2019.763,"v":203.5,"s":1.8},{"t":2019.766,"v":203.9,"s":1.8},{"t":2019.769,"v":201.4,"s":1.8},{"t":2019.772,"v":200.5,"s":1.8},{"t":2019.775,"v":201.8,"s":1.8},{"t":2019.778,"v":201.6,"s":1.8},{"t":2019.781,"v":201.4,"s":1.8},{"t":2019.785,"v":202.0,"s":1.8},{"t":2019.789,"v":201.4,"s":1.8},{"t":2019.793,"v":201.2,"s":1.8},{"t":2019.796,"v":204.7,"s":1.8},{"t":2019.798,"v":201.8,"s":1.8},{"t":2019.801,"v":201.6,"s":1.8},{"t":2019.805,"v":201.8,"s":1.8},{"t":2019.808,"v":201.7,"s":1.8},{"t":2019.812,"v":201.2,"s":1.8},{"t":2019.816,"v":202.2,"s":1.8},{"t":2019.819,"v":202.0,"s":1.8},{"t":2019.823,"v":202.7,"s":1.8},{"t":2019.827,"v":201.8,"s":1.8},{"t":2019.831,"v":202.0,"s":1.8},{"t":2019.835,"v":202.0,"s":1.8},{"t":2019.839,"v":201.2,"s":1.8},{"t":2019.842,"v":202.9,"s":1.8},{"t":2019.846,"v":202.4,"s":1.8},{"t":2019.848,"v":202.0,"s":1.8},{"t":2019.85,"v":206.1,"s":1.8},{"t":2019.853,"v":206.9,"s":1.8},{"t":2019.856,"v":206.9,"s":1.8},{"t":2019.859,"v":205.6,"s":1.8},{"t":2019.862,"v":206.3,"s":1.8},{"t":2019.864,"v":205.2,"s":1.8},{"t":2019.867,"v":205.0,"s":1.8},{"t":2019.87,"v":205.0,"s":1.8},{"t":2019.873,"v":206.1,"s":1.8},{"t":2019.876,"v":204.2,"s":1.8},{"t":2019.878,"v":199.9,"s":1.8},{"t":2019.881,"v":199.5,"s":1.8},{"t":2019.883,"v":199.2,"s":1.8},{"t":2019.886,"v":197.3,"s":1.8},{"t":2019.889,"v":198.4,"s":1.8},{"t":2019.892,"v":197.1,"s":1.8},{"t":2019.896,"v":198.8,"s":1.8},{"t":2019.899,"v":198.6,"s":1.8},{"t":2019.902,"v":199.2,"s":1.8},{"t":2019.905,"v":199.4,"s":1.8},{"t":2019.908,"v":198.8,"s":1.8},{"t":2019.911,"v":198.7,"s":1.8},{"t":2019.913,"v":196.2,"s":1.8},{"t":2019.916,"v":196.9,"s":1.8},{"t":2019.919,"v":194.7,"s":1.8},{"t":2019.922,"v":194.3,"s":1.8},{"t":2019.925,"v":195.4,"s":1.8},{"t":2019.928,"v":194.7,"s":1.8},{"t":2019.93,"v":197.1,"s":1.8},{"t":2019.934,"v":197.3,"s":1.8},{"t":2019.938,"v":197.3,"s":1.8},{"t":2019.942,"v":196.9,"s":1.8},{"t":2019.946,"v":196.0,"s":1.8},{"t":2019.947,"v":196.9,"s":1.8},{"t":2019.951,"v":195.4,"s":1.8},{"t":2019.954,"v":199.9,"s":1.8},{"t":2019.957,"v":197.5,"s":1.8},{"t":2019.96,"v":195.8,"s":1.8},{"t":2019.962,"v":194.9,"s":1.8},{"t":2019.965,"v":197.1,"s":1.8},{"t":2019.967,"v":197.3,"s":1.8},{"t":2019.97,"v":196.2,"s":1.8},{"t":2019.973,"v":198.4,"s":1.8}
    ],
    "pe": [
      {"t":2019.012,"v":346.5,"s":2.7},{"t":2019.016,"v":345.7,"s":2.7},{"t":2019.02,"v":345.2,"s":2.7},{"t":2019.024,"v":344.8,"s":2.7},{"t":2019.028,"v":344.5,"s":2.7},{"t":2019.032,"v":345.7,"s":2.7},{"t":2019.035,"v":344.8,"s":2.7},{"t":2019.037,"v":342.5,"s":2.7},{"t":2019.04,"v":343.5,"s":2.7},{"t":2019.045,"v":348.8,"s":2.7},{"t":2019.048,"v":350.3,"s":2.7},{"t":2019.051,"v":350.8,"s":2.7},{"t":2019.054,"v":349.5,"s":2.7},{"t":2019.056,"v":345.7,"s":2.7},{"t":2019.059,"v":345.2,"s":2.7},{"t":2019.063,"v":345.2,"s":2.7},{"t":2019.066,"v":345.7,"s":2.7},{"t":2019.07,"v":346.1,"s":2.7},{"t":2019.072,"v":351.6,"s":2.7},{"t":2019.075,"v":346.5,"s":2.7},{"t":2019.078,"v":345.7,"s":2.7},{"t":2019.081,"v":350.8,"s":2.7},{"t":2019.084,"v":345.2,"s":2.7},{"t":2019.087,"v":346.1,"s":2.7},{"t":2019.091,"v":346.9,"s":2.7},{"t":2019.094,"v":346.5,"s":2.7},{"t":2019.097,"v":345.2,"s":2.7},{"t":2019.101,"v":346.9,"s":2.7},{"t":2019.104,"v":353.3,"s":2.7},{"t":2019.108,"v":343.1,"s":2.7},{"t":2019.11,"v":350.3,"s":2.7},{"t":2019.113,"v":343.1,"s":2.7},{"t":2019.116,"v":350.3,"s":2.7},
      {"t":2019.133,"v":348.2,"s":2.7},{"t":2019.137,"v":347.4,"s":2.7},{"t":2019.141,"v":346.1,"s":2.7},{"t":2019.145,"v":347.4,"s":2.7},{"t":2019.149,"v":344.8,"s":2.7},{"t":2019.152,"v":347.8,"s":2.7},{"t":2019.156,"v":347.8,"s":2.7},{"t":2019.16,"v":347.8,"s":2.7},{"t":2019.163,"v":344.5,"s":2.7},{"t":2019.165,"v":346.9,"s":2.7},{"t":2019.168,"v":349.5,"s":2.7},{"t":2019.172,"v":349.5,"s":2.7},{"t":2019.175,"v":349.1,"s":2.7},{"t":2019.179,"v":349.1,"s":2.7},{"t":2019.183,"v":348.6,"s":2.7},{"t":2019.185,"v":350.8,"s":2.7},{"t":2019.189,"v":348.6,"s":2.7},{"t":2019.193,"v":350.3,"s":2.7},{"t":2019.196,"v":350.8,"s":2.7},{"t":2019.2,"v":351.6,"s":2.7},{"t":2019.203,"v":347.4,"s":2.7},{"t":2019.206,"v":349.1,"s":2.7},{"t":2019.21,"v":349.9,"s":2.7},{"t":2019.214,"v":349.9,"s":2.7},{"t":2019.217,"v":349.5,"s":2.7},{"t":2019.222,"v":346.9,"s":2.7},{"t":2019.225,"v":348.2,"s":2.7},{"t":2019.228,"v":347.8,"s":2.7},{"t":2019.231,"v":349.9,"s":2.7},{"t":2019.234,"v":348.6,"s":2.7},{"t":2019.237,"v":350.8,"s":2.7},{"t":2019.239,"v":351.6,"s":2.7},{"t":2019.242,"v":350.3,"s":2.7},{"t":2019.245,"v":350.3,"s":2.7},{"t":2019.247,"v":345.0,"s":2.7},{"t":2019.251,"v":347.8,"s":2.7},{"t":2019.254,"v":348.2,"s":2.7},{"t":2019.258,"v":349.9,"s":2.7},{"t":2019.261,"v":350.8,"s":2.7},{"t":2019.265,"v":350.3,"s":2.7},{"t":2019.269,"v":350.3,"s":2.7},{"t":2019.273,"v":349.9,"s":2.7},{"t":2019.277,"v":350.3,"s":2.7},{"t":2019.281,"v":350.8,"s":2.7},{"t":2019.284,"v":349.9,"s":2.7},{"t":2019.288,"v":355.0,"s":2.7},{"t":2019.292,"v":350.3,"s":2.7},{"t":2019.296,"v":350.8,"s":2.7},{"t":2019.3,"v":350.8,"s":2.7},{"t":2019.303,"v":348.6,"s":2.7},{"t":2019.305,"v":355.0,"s":2.7},{"t":2019.309,"v":350.8,"s":2.7},{"t":2019.313,"v":351.6,"s":2.7},{"t":2019.317,"v":352.9,"s":2.7},{"t":2019.321,"v":353.8,"s":2.7},{"t":2019.325,"v":353.3,"s":2.7},{"t":2019.328,"v":352.9,"s":2.7},{"t":2019.332,"v":352.9,"s":2.7},{"t":2019.336,"v":353.3,"s":2.7},{"t":2019.34,"v":354.2,"s":2.7},{"t":2019.344,"v":350.8,"s":2.7},{"t":2019.347,"v":351.2,"s":2.7},{"t":2019.351,"v":349.5,"s":2.7},{"t":2019.355,"v":349.1,"s":2.7},{"t":2019.359,"v":349.1,"s":2.7},{"t":2019.363,"v":352.1,"s":2.7},{"t":2019.367,"v":349.9,"s":2.7},{"t":2019.37,"v":349.5,"s":2.7},{"t":2019.374,"v":349.5,"s":2.7},{"t":2019.378,"v":348.6,"s":2.7},{"t":2019.382,"v":347.8,"s":2.7},{"t":2019.386,"v":349.1,"s":2.7},{"t":2019.39,"v":349.5,"s":2.7},{"t":2019.393,"v":349.9,"s":2.7},{"t":2019.397,"v":347.8,"s":2.7},{"t":2019.401,"v":348.6,"s":2.7},{"t":2019.405,"v":347.8,"s":2.7},{"t":2019.409,"v":348.6,"s":2.7},{"t":2019.412,"v":350.8,"s":2.7},{"t":2019.416,"v":348.2,"s":2.7},{"t":2019.42,"v":349.5,"s":2.7},{"t":2019.424,"v":349.9,"s":2.7},{"t":2019.428,"v":349.5,"s":2.7},{"t":2019.432,"v":351.2,"s":2.7},{"t":2019.435,"v":349.9,"s":2.7},{"t":2019.439,"v":350.8,"s":2.7},{"t":2019.443,"v":350.8,"s":2.7},{"t":2019.447,"v":351.6,"s":2.7},{"t":2019.451,"v":347.4,"s":2.7},{"t":2019.453,"v":354.2,"s":2.7},{"t":2019.456,"v":355.5,"s":2.7},{"t":2019.458,"v":358.0,"s":2.7},{"t":2019.462,"v":357.2,"s":2.7},{"t":2019.464,"v":354.6,"s":2.7},{"t":2019.468,"v":358.9,"s":2.7},{"t":2019.471,"v":357.6,"s":2.7},{"t":2019.475,"v":352.9,"s":2.7},{"t":2019.479,"v":353.8,"s":2.7},{"t":2019.481,"v":352.5,"s":2.7},{"t":2019.485,"v":354.6,"s":2.7},{"t":2019.489,"v":354.6,"s":2.7},{"t":2019.494,"v":356.8,"s":2.7},{"t":2019.498,"v":351.6,"s":2.7},{"t":2019.5,"v":352.9,"s":2.7},{"t":2019.504,"v":352.9,"s":2.7},{"t":2019.507,"v":359.3,"s":2.7},
      {"t":2019.511,"v":355.1,"s":2.7},{"t":2019.514,"v":350.4,"s":2.7},{"t":2019.517,"v":352.1,"s":2.7},{"t":2019.521,"v":353.8,"s":2.7},{"t":2019.524,"v":353.8,"s":2.7},{"t":2019.528,"v":353.8,"s":2.7},{"t":2019.531,"v":355.5,"s":2.7},{"t":2019.535,"v":354.2,"s":2.7},{"t":2019.539,"v":355.9,"s":2.7},{"t":2019.54,"v":354.6,"s":2.7},{"t":2019.544,"v":351.6,"s":2.7},{"t":2019.549,"v":349.9,"s":2.7},{"t":2019.556,"v":352.5,"s":2.7},{"t":2019.56,"v":349.9,"s":2.7},{"t":2019.563,"v":351.2,"s":2.7},{"t":2019.565,"v":349.1,"s":2.7},{"t":2019.568,"v":352.9,"s":2.7},{"t":2019.571,"v":350.8,"s":2.7},{"t":2019.574,"v":351.6,"s":2.7},{"t":2019.577,"v":353.8,"s":2.7},{"t":2019.581,"v":355.5,"s":2.7},{"t":2019.584,"v":349.1,"s":2.7},{"t":2019.587,"v":343.1,"s":2.7},{"t":2019.59,"v":346.9,"s":2.7},{"t":2019.593,"v":350.4,"s":2.7},{"t":2019.596,"v":350.4,"s":2.7},{"t":2019.599,"v":354.6,"s":2.7},{"t":2019.602,"v":350.4,"s":2.7},{"t":2019.605,"v":353.8,"s":2.7},{"t":2019.609,"v":355.5,"s":2.7},{"t":2019.612,"v":356.8,"s":2.7},{"t":2019.615,"v":352.5,"s":2.7},{"t":2019.619,"v":355.9,"s":2.7},{"t":2019.623,"v":353.8,"s":2.7},{"t":2019.625,"v":356.3,"s":2.7},{"t":2019.628,"v":353.8,"s":2.7},{"t":2019.631,"v":353.3,"s":2.7},{"t":2019.634,"v":352.9,"s":2.7},{"t":2019.638,"v":354.2,"s":2.7},{"t":2019.641,"v":354.6,"s":2.7},{"t":2019.644,"v":353.3,"s":2.7},{"t":2019.648,"v":354.6,"s":2.7},{"t":2019.651,"v":355.1,"s":2.7},{"t":2019.655,"v":354.2,"s":2.7},{"t":2019.659,"v":353.8,"s":2.7},{"t":2019.663,"v":353.3,"s":2.7},{"t":2019.667,"v":353.3,"s":2.7},{"t":2019.67,"v":352.5,"s":2.7},{"t":2019.674,"v":359.3,"s":2.7},{"t":2019.677,"v":354.2,"s":2.7},{"t":2019.681,"v":354.6,"s":2.7},{"t":2019.685,"v":354.6,"s":2.7},{"t":2019.689,"v":355.5,"s":2.7},{"t":2019.691,"v":357.2,"s":2.7},{"t":2019.695,"v":356.3,"s":2.7},{"t":2019.698,"v":354.2,"s":2.7},{"t":2019.702,"v":352.5,"s":2.7},{"t":2019.705,"v":355.5,"s":2.7},{"t":2019.708,"v":356.3,"s":2.7},{"t":2019.712,"v":356.8,"s":2.7},{"t":2019.716,"v":357.2,"s":2.7},{"t":2019.719,"v":356.8,"s":2.7},{"t":2019.723,"v":355.1,"s":2.7},{"t":2019.727,"v":358.0,"s":2.7},{"t":2019.731,"v":357.6,"s":2.7},{"t":2019.735,"v":358.9,"s":2.7},{"t":2019.737,"v":360.2,"s":2.7},{"t":2019.74,"v":357.2,"s":2.7},{"t":2019.743,"v":358.9,"s":2.7},{"t":2019.747,"v":359.8,"s":2.7},{"t":2019.75,"v":358.9,"s":2.7},{"t":2019.754,"v":363.6,"s":2.7},{"t":2019.758,"v":357.2,"s":2.7},{"t":2019.761,"v":357.6,"s":2.7},{"t":2019.765,"v":360.2,"s":2.7},{"t":2019.769,"v":359.8,"s":2.7},{"t":2019.773,"v":359.8,"s":2.7},{"t":2019.777,"v":359.8,"s":2.7},{"t":2019.781,"v":359.3,"s":2.7},{"t":2019.784,"v":358.9,"s":2.7},{"t":2019.788,"v":359.8,"s":2.7},{"t":2019.792,"v":360.2,"s":2.7},{"t":2019.795,"v":363.8,"s":2.7},{"t":2019.798,"v":359.8,"s":2.7},{"t":2019.802,"v":358.5,"s":2.7},{"t":2019.806,"v":359.8,"s":2.7},{"t":2019.81,"v":360.2,"s":2.7},{"t":2019.814,"v":360.2,"s":2.7},{"t":2019.818,"v":359.8,"s":2.7},{"t":2019.821,"v":359.8,"s":2.7},{"t":2019.825,"v":359.8,"s":2.7},{"t":2019.829,"v":360.2,"s":2.7},{"t":2019.833,"v":359.8,"s":2.7},{"t":2019.837,"v":359.8,"s":2.7},{"t":2019.841,"v":359.8,"s":2.7},{"t":2019.844,"v":359.8,"s":2.7},{"t":2019.847,"v":359.3,"s":2.7},{"t":2019.851,"v":364.2,"s":2.7},{"t":2019.854,"v":364.5,"s":2.7},{"t":2019.858,"v":364.2,"s":2.7},{"t":2019.862,"v":364.0,"s":2.7},{"t":2019.865,"v":364.0,"s":2.7},{"t":2019.869,"v":363.2,"s":2.7},{"t":2019.873,"v":364.0,"s":2.7},{"t":2019.876,"v":362.7,"s":2.7},{"t":2019.884,"v":364.9,"s":2.7},{"t":2019.888,"v":364.7,"s":2.7},{"t":2019.892,"v":365.1,"s":2.7},{"t":2019.896,"v":365.3,"s":2.7},{"t":2019.9,"v":364.5,"s":2.7},{"t":2019.903,"v":365.6,"s":2.7},{"t":2019.906,"v":366.2,"s":2.7},{"t":2019.908,"v":365.1,"s":2.7},{"t":2019.91,"v":360.2,"s":2.7},{"t":2019.913,"v":361.5,"s":2.7},{"t":2019.916,"v":356.8,"s":2.7},{"t":2019.919,"v":354.2,"s":2.7},{"t":2019.922,"v":356.3,"s":2.7},{"t":2019.925,"v":355.9,"s":2.7},{"t":2019.928,"v":355.1,"s":2.7},{"t":2019.931,"v":358.5,"s":2.7},{"t":2019.934,"v":358.5,"s":2.7},{"t":2019.938,"v":358.5,"s":2.7},{"t":2019.942,"v":358.9,"s":2.7},{"t":2019.946,"v":358.5,"s":2.7},{"t":2019.949,"v":357.6,"s":2.7},{"t":2019.953,"v":355.5,"s":2.7},{"t":2019.956,"v":358.5,"s":2.7},{"t":2019.959,"v":358.5,"s":2.7},{"t":2019.962,"v":355.9,"s":2.7},{"t":2019.966,"v":358.0,"s":2.7},{"t":2019.969,"v":357.6,"s":2.7},{"t":2019.972,"v":357.6,"s":2.7}
    ],
    "pu": [
      {"t":2019.013,"v":10.9,"s":9},{"t":2019.019,"v":8.2,"s":9},{"t":2019.022,"v":10.3,"s":9},{"t":2019.026,"v":8.2,"s":9},{"t":2019.03,"v":10.3,"s":9},{"t":2019.034,"v":14.5,"s":9},{"t":2019.038,"v":18.7,"s":9},{"t":2019.04,"v":3.0,"s":9},{"t":2019.046,"v":-0.2,"s":9},{"t":2019.049,"v":-9.6,"s":9},{"t":2019.052,"v":-11.3,"s":9},{"t":2019.054,"v":-11.3,"s":9},{"t":2019.057,"v":10.3,"s":9},{"t":2019.061,"v":10.3,"s":9},{"t":2019.065,"v":9.3,"s":9},{"t":2019.068,"v":10.3,"s":9},{"t":2019.072,"v":8.2,"s":9},{"t":2019.076,"v":7.2,"s":9},{"t":2019.08,"v":9.3,"s":9},{"t":2019.084,"v":12.4,"s":9},{"t":2019.087,"v":12.4,"s":9},{"t":2019.091,"v":12.4,"s":9},{"t":2019.094,"v":9.3,"s":9},{"t":2019.098,"v":8.2,"s":9},{"t":2019.101,"v":9.3,"s":9},{"t":2019.104,"v":6.1,"s":9},{"t":2019.107,"v":6.1,"s":9},{"t":2019.109,"v":14.5,"s":9},{"t":2019.112,"v":10.3,"s":9},{"t":2019.115,"v":10.3,"s":9},{"t":2019.118,"v":5.1,"s":9},
      {"t":2019.133,"v":10.3,"s":9},{"t":2019.137,"v":2.5,"s":9},{"t":2019.141,"v":13.5,"s":9},{"t":2019.145,"v":8.2,"s":9},{"t":2019.149,"v":8.2,"s":9},{"t":2019.152,"v":12.4,"s":9},{"t":2019.156,"v":10.3,"s":9},{"t":2019.16,"v":8.2,"s":9},{"t":2019.164,"v":9.3,"s":9},{"t":2019.168,"v":10.3,"s":9},{"t":2019.172,"v":12.4,"s":9},{"t":2019.175,"v":12.4,"s":9},{"t":2019.179,"v":8.2,"s":9},{"t":2019.183,"v":12.4,"s":9},{"t":2019.187,"v":10.3,"s":9},{"t":2019.191,"v":7.2,"s":9},{"t":2019.195,"v":8.2,"s":9},{"t":2019.198,"v":15.6,"s":9},{"t":2019.201,"v":19.8,"s":9},{"t":2019.204,"v":15.6,"s":9},{"t":2019.208,"v":12.4,"s":9},{"t":2019.212,"v":10.3,"s":9},{"t":2019.216,"v":5.5,"s":9},{"t":2019.219,"v":6.1,"s":9},{"t":2019.223,"v":8.2,"s":9},{"t":2019.227,"v":9.3,"s":9},{"t":2019.231,"v":12.4,"s":9},{"t":2019.235,"v":11.4,"s":9},{"t":2019.238,"v":10.3,"s":9},{"t":2019.242,"v":10.3,"s":9},{"t":2019.246,"v":7.2,"s":9},{"t":2019.249,"v":19.8,"s":9},{"t":2019.253,"v":14.5,"s":9},{"t":2019.257,"v":12.4,"s":9},{"t":2019.261,"v":10.3,"s":9},{"t":2019.264,"v":10.3,"s":9},{"t":2019.268,"v":8.2,"s":9},{"t":2019.272,"v":8.2,"s":9},{"t":2019.276,"v":13.5,"s":9},{"t":2019.28,"v":9.3,"s":9},{"t":2019.284,"v":10.3,"s":9},{"t":2019.287,"v":3.0,"s":9},{"t":2019.291,"v":0.9,"s":9},{"t":2019.295,"v":0.9,"s":9},{"t":2019.299,"v":-1.2,"s":9},{"t":2019.303,"v":-0.2,"s":9},{"t":2019.307,"v":1.9,"s":9},{"t":2019.31,"v":-1.2,"s":9},{"t":2019.314,"v":1.9,"s":9},{"t":2019.318,"v":5.1,"s":9},{"t":2019.322,"v":6.1,"s":9},{"t":2019.326,"v":-3.3,"s":9},{"t":2019.329,"v":1.9,"s":9},{"t":2019.333,"v":3.0,"s":9},{"t":2019.337,"v":10.3,"s":9},{"t":2019.341,"v":11.4,"s":9},{"t":2019.345,"v":10.3,"s":9},{"t":2019.349,"v":11.4,"s":9},{"t":2019.352,"v":13.5,"s":9},{"t":2019.356,"v":12.4,"s":9},{"t":2019.36,"v":9.3,"s":9},{"t":2019.364,"v":7.2,"s":9},{"t":2019.368,"v":10.3,"s":9},{"t":2019.371,"v":6.1,"s":9},{"t":2019.375,"v":9.3,"s":9},{"t":2019.379,"v":10.3,"s":9},{"t":2019.383,"v":8.2,"s":9},{"t":2019.387,"v":8.2,"s":9},{"t":2019.391,"v":21.9,"s":9},{"t":2019.394,"v":1.9,"s":9},{"t":2019.397,"v":1.9,"s":9},{"t":2019.401,"v":7.2,"s":9},{"t":2019.405,"v":5.1,"s":9},{"t":2019.409,"v":14.5,"s":9},{"t":2019.412,"v":0.9,"s":9},{"t":2019.416,"v":10.3,"s":9},{"t":2019.419,"v":20.8,"s":9},{"t":2019.422,"v":18.7,"s":9},{"t":2019.425,"v":5.1,"s":9},{"t":2019.429,"v":12.4,"s":9},{"t":2019.433,"v":1.9,"s":9},{"t":2019.437,"v":10.3,"s":9},{"t":2019.44,"v":9.3,"s":9},{"t":2019.444,"v":5.1,"s":9},{"t":2019.448,"v":-3.3,"s":9},{"t":2019.452,"v":12.4,"s":9},{"t":2019.456,"v":3.0,"s":9},{"t":2019.46,"v":10.3,"s":9},{"t":2019.463,"v":14.5,"s":9},{"t":2019.467,"v":3.0,"s":9},{"t":2019.471,"v":18.7,"s":9},{"t":2019.474,"v":-2.3,"s":9},{"t":2019.477,"v":5.1,"s":9},{"t":2019.481,"v":5.1,"s":9},{"t":2019.485,"v":10.3,"s":9},{"t":2019.489,"v":9.3,"s":9},{"t":2019.493,"v":10.3,"s":9},{"t":2019.495,"v":-23.9,"s":9},{"t":2019.498,"v":-9.6,"s":9},{"t":2019.5,"v":0.9,"s":9},{"t":2019.503,"v":16.0,"s":9},{"t":2019.507,"v":0.9,"s":9},
      {"t":2019.509,"v":0.9,"s":9},{"t":2019.513,"v":9.3,"s":9},{"t":2019.517,"v":10.3,"s":9},{"t":2019.521,"v":7.2,"s":9},{"t":2019.524,"v":12.4,"s":9},{"t":2019.528,"v":15.6,"s":9},{"t":2019.532,"v":6.1,"s":9},{"t":2019.535,"v":15.6,"s":9},{"t":2019.54,"v":14.5,"s":9},{"t":2019.544,"v":19.8,"s":9},{"t":2019.548,"v":15.6,"s":9},{"t":2019.552,"v":7.2,"s":9},{"t":2019.556,"v":12.4,"s":9},{"t":2019.559,"v":11.8,"s":9},{"t":2019.561,"v":18.7,"s":10},{"t":2019.564,"v":22.9,"s":10},{"t":2019.567,"v":31.3,"s":10},{"t":2019.57,"v":19.8,"s":10},{"t":2019.573,"v":28.2,"s":10},{"t":2019.577,"v":26.1,"s":10},{"t":2019.58,"v":19.8,"s":10},{"t":2019.583,"v":3.0,"s":10},{"t":2019.586,"v":15.6,"s":10},{"t":2019.589,"v":29.2,"s":10},{"t":2019.591,"v":31.3,"s":10},{"t":2019.594,"v":11.4,"s":10},{"t":2019.597,"v":20.8,"s":10},{"t":2019.6,"v":26.1,"s":10},{"t":2019.602,"v":27.1,"s":10},{"t":2019.605,"v":18.7,"s":10},{"t":2019.609,"v":16.6,"s":10},{"t":2019.612,"v":15.6,"s":10},{"t":2019.615,"v":21.9,"s":10},{"t":2019.618,"v":31.3,"s":10},{"t":2019.621,"v":25.0,"s":10},{"t":2019.625,"v":26.1,"s":10},{"t":2019.628,"v":21.9,"s":10},{"t":2019.632,"v":22.9,"s":10},{"t":2019.636,"v":28.2,"s":10},{"t":2019.64,"v":27.1,"s":10},{"t":2019.644,"v":21.9,"s":10},{"t":2019.648,"v":31.3,"s":10},{"t":2019.651,"v":24.0,"s":10},{"t":2019.655,"v":24.0,"s":10},{"t":2019.659,"v":25.0,"s":10},{"t":2019.663,"v":19.8,"s":10},{"t":2019.666,"v":34.5,"s":10},{"t":2019.669,"v":39.7,"s":10},{"t":2019.672,"v":21.9,"s":10},{"t":2019.675,"v":11.4,"s":10},{"t":2019.678,"v":27.1,"s":10},{"t":2019.682,"v":24.0,"s":10},{"t":2019.686,"v":31.3,"s":10},{"t":2019.69,"v":24.0,"s":10},{"t":2019.693,"v":32.4,"s":10},{"t":2019.697,"v":26.1,"s":10},{"t":2019.701,"v":24.0,"s":10},{"t":2019.705,"v":29.2,"s":10},{"t":2019.709,"v":34.5,"s":10},{"t":2019.712,"v":10.3,"s":10},{"t":2019.714,"v":28.2,"s":10},{"t":2019.718,"v":26.1,"s":10},{"t":2019.722,"v":30.3,"s":10},{"t":2019.726,"v":15.6,"s":10},{"t":2019.73,"v":20.8,"s":10},{"t":2019.733,"v":16.6,"s":10},{"t":2019.737,"v":17.7,"s":10},{"t":2019.741,"v":15.6,"s":10},{"t":2019.745,"v":14.5,"s":10},{"t":2019.749,"v":16.6,"s":10},{"t":2019.753,"v":15.6,"s":10},{"t":2019.756,"v":24.0,"s":10},{"t":2019.76,"v":22.9,"s":10},{"t":2019.764,"v":14.5,"s":10},{"t":2019.768,"v":21.9,"s":10},{"t":2019.772,"v":16.6,"s":10},{"t":2019.776,"v":19.8,"s":10},{"t":2019.779,"v":16.6,"s":10},{"t":2019.783,"v":15.6,"s":10},{"t":2019.787,"v":15.6,"s":10},{"t":2019.791,"v":20.8,"s":10},{"t":2019.795,"v":20.8,"s":10},{"t":2019.799,"v":16.6,"s":10},{"t":2019.802,"v":15.6,"s":10},{"t":2019.806,"v":15.6,"s":10},{"t":2019.81,"v":20.8,"s":10},{"t":2019.814,"v":15.6,"s":10},{"t":2019.818,"v":16.6,"s":10},{"t":2019.821,"v":17.7,"s":10},{"t":2019.825,"v":15.6,"s":10},{"t":2019.829,"v":14.5,"s":10},{"t":2019.833,"v":19.8,"s":10},{"t":2019.837,"v":18.7,"s":10},{"t":2019.841,"v":20.8,"s":10},{"t":2019.844,"v":18.7,"s":10},{"t":2019.848,"v":20.8,"s":10},{"t":2019.852,"v":11.4,"s":10},{"t":2019.855,"v":22.9,"s":10},{"t":2019.857,"v":32.8,"s":10},{"t":2019.86,"v":32.4,"s":10},{"t":2019.863,"v":15.6,"s":10},{"t":2019.866,"v":18.7,"s":10},{"t":2019.869,"v":15.6,"s":10},{"t":2019.873,"v":18.7,"s":10},{"t":2019.877,"v":10.3,"s":10},{"t":2019.881,"v":10.3,"s":10},{"t":2019.885,"v":10.3,"s":10},{"t":2019.888,"v":12.4,"s":10},{"t":2019.892,"v":5.1,"s":10},{"t":2019.896,"v":4.0,"s":10},{"t":2019.9,"v":4.0,"s":10},{"t":2019.904,"v":10.3,"s":10},{"t":2019.907,"v":6.1,"s":10},{"t":2019.911,"v":-3.3,"s":10},{"t":2019.915,"v":-3.3,"s":10},{"t":2019.918,"v":8.2,"s":10},{"t":2019.922,"v":5.1,"s":10},{"t":2019.926,"v":7.2,"s":10},{"t":2019.93,"v":1.9,"s":10},{"t":2019.933,"v":1.9,"s":10},{"t":2019.937,"v":0.9,"s":10},{"t":2019.941,"v":4.0,"s":10},{"t":2019.945,"v":4.0,"s":10},{"t":2019.949,"v":5.1,"s":10},{"t":2019.953,"v":7.2,"s":10},{"t":2019.956,"v":6.1,"s":10},{"t":2019.96,"v":1.9,"s":10},{"t":2019.964,"v":0.9,"s":10},{"t":2019.967,"v":-5.4,"s":10},{"t":2019.969,"v":1.9,"s":10},{"t":2019.972,"v":-1.2,"s":10}
    ],
    "trend": [
      {"p":"BN","t":2018.78,"v":218.5},{"p":"BN","t":2020.0104,"v":235.6},
      {"p":"BE","t":2018.78,"v":323.7},{"p":"BE","t":2020.0104,"v":348.7},
      {"p":"BU","t":2018.773,"v":67.3},{"p":"BU","t":2020.002,"v":73.7},
      {"p":"PN","t":2019.011,"v":192.8},{"p":"PN","t":2020.0206,"v":204.5},
      {"p":"PE","t":2019.0,"v":344.5},{"p":"PE","t":2020.0103,"v":365.7},
      {"p":"PU","t":2019.003,"v":12.8},{"p":"PU","t":2020.0103,"v":15.6}
    ],
    "events": [
      {"site":"BERA","t":2019.9046,"kind":"solid"},
      {"site":"PESH","t":2019.9045,"kind":"solid"},
      {"site":"PESH","t":2019.9018,"kind":"dashed"}
    ]
  },
  "spacing": -1,
  "vconcat": [
    {
      "title": {"text": "BERA", "offset": 18, "dx": 19},
      "bounds": "flush",
      "spacing": 92,
      "vconcat": [
        {
          "width": 881, "height": 158,
          "data": {"name": "bn"},
          "resolve": {"axis": {"x": "independent", "y": "independent"}},
          "layer": [
            {"mark": {"type": "errorbar", "color": "#2a2a2a", "thickness": 1.8},
             "encoding": {
               "x": {"field": "t", "type": "quantitative", "scale": {"domain": [2018.78, 2020.0104], "nice": false, "zero": false},
                     "axis": {"orient": "bottom", "values": [2018.8, 2019, 2019.2, 2019.4, 2019.6, 2019.8, 2020], "labelExpr": "'' + datum.value", "title": "Year"}},
               "y": {"field": "v", "type": "quantitative", "scale": {"domain": [210, 240], "nice": false, "zero": false},
                     "axis": {"orient": "left", "values": [210, 220, 230, 240], "labelExpr": "'' + datum.value", "title": "North (mm)"}},
               "yError": {"field": "s"}}},
            {"mark": {"type": "point", "filled": true, "color": "#151515", "size": 40, "opacity": 1},
             "encoding": {
               "x": {"field": "t", "type": "quantitative", "axis": {"orient": "top", "values": [2018.8, 2019, 2019.2, 2019.4, 2019.6, 2019.8, 2020], "labels": false, "title": null}},
               "y": {"field": "v", "type": "quantitative", "axis": {"orient": "right", "values": [210, 220, 230, 240], "labels": false, "title": null}}}},
            {"data": {"name": "trend"}, "transform": [{"filter": "datum.p === 'BN'"}],
             "mark": {"type": "line", "color": "#ff5a1f", "strokeWidth": 1.6, "clip": false},
             "encoding": {"x": {"field": "t", "type": "quantitative", "axis": null}, "y": {"field": "v", "type": "quantitative", "axis": null}}},
            {"data": {"name": "events"}, "transform": [{"filter": "datum.site === 'BERA'"}],
             "mark": {"type": "rule", "color": "#8c8c8c", "strokeWidth": 1.2},
             "encoding": {"x": {"field": "t", "type": "quantitative", "axis": null}}}
          ]
        },
        {
          "width": 881, "height": 155,
          "data": {"name": "be"},
          "resolve": {"axis": {"x": "independent", "y": "independent"}},
          "layer": [
            {"mark": {"type": "errorbar", "color": "#2a2a2a", "thickness": 1.8},
             "encoding": {
               "x": {"field": "t", "type": "quantitative", "scale": {"domain": [2018.78, 2020.0104], "nice": false, "zero": false},
                     "axis": {"orient": "bottom", "values": [2018.8, 2019, 2019.2, 2019.4, 2019.6, 2019.8, 2020], "labelExpr": "'' + datum.value", "title": "Year"}},
               "y": {"field": "v", "type": "quantitative", "scale": {"domain": [317.3, 360], "nice": false, "zero": false},
                     "axis": {"orient": "left", "values": [320, 340, 360], "labelExpr": "'' + datum.value", "title": "East (mm)"}},
               "yError": {"field": "s"}}},
            {"mark": {"type": "point", "filled": true, "color": "#151515", "size": 40, "opacity": 1},
             "encoding": {
               "x": {"field": "t", "type": "quantitative", "axis": {"orient": "top", "values": [2018.8, 2019, 2019.2, 2019.4, 2019.6, 2019.8, 2020], "labels": false, "title": null}},
               "y": {"field": "v", "type": "quantitative", "axis": {"orient": "right", "values": [320, 340, 360], "labels": false, "title": null}}}},
            {"data": {"name": "trend"}, "transform": [{"filter": "datum.p === 'BE'"}],
             "mark": {"type": "line", "color": "#ff5a1f", "strokeWidth": 1.6, "clip": false},
             "encoding": {"x": {"field": "t", "type": "quantitative", "axis": null}, "y": {"field": "v", "type": "quantitative", "axis": null}}},
            {"data": {"name": "events"}, "transform": [{"filter": "datum.site === 'BERA'"}],
             "mark": {"type": "rule", "color": "#8c8c8c", "strokeWidth": 1.2},
             "encoding": {"x": {"field": "t", "type": "quantitative", "axis": null}}}
          ]
        },
        {
          "width": 881, "height": 159,
          "data": {"name": "bu"},
          "resolve": {"axis": {"x": "independent", "y": "independent"}},
          "layer": [
            {"mark": {"type": "errorbar", "color": "#2a2a2a", "thickness": 1.8},
             "encoding": {
               "x": {"field": "t", "type": "quantitative", "scale": {"domain": [2018.78, 2020.0104], "nice": false, "zero": false},
                     "axis": {"orient": "bottom", "values": [2018.8, 2019, 2019.2, 2019.4, 2019.6, 2019.8, 2020], "labelExpr": "'' + datum.value", "title": "Year"}},
               "y": {"field": "v", "type": "quantitative", "scale": {"domain": [51.3, 102.9], "nice": false, "zero": false},
                     "axis": {"orient": "left", "values": [60, 80, 100], "labelExpr": "'' + datum.value", "title": "Up (mm)"}},
               "yError": {"field": "s"}}},
            {"mark": {"type": "point", "filled": true, "color": "#151515", "size": 40, "opacity": 1},
             "encoding": {
               "x": {"field": "t", "type": "quantitative", "axis": {"orient": "top", "values": [2018.8, 2019, 2019.2, 2019.4, 2019.6, 2019.8, 2020], "labels": false, "title": null}},
               "y": {"field": "v", "type": "quantitative", "axis": {"orient": "right", "values": [60, 80, 100], "labels": false, "title": null}}}},
            {"data": {"name": "trend"}, "transform": [{"filter": "datum.p === 'BU'"}],
             "mark": {"type": "line", "color": "#ff5a1f", "strokeWidth": 1.6, "clip": false},
             "encoding": {"x": {"field": "t", "type": "quantitative", "axis": null}, "y": {"field": "v", "type": "quantitative", "axis": null}}},
            {"data": {"name": "events"}, "transform": [{"filter": "datum.site === 'BERA'"}],
             "mark": {"type": "rule", "color": "#8c8c8c", "strokeWidth": 1.2},
             "encoding": {"x": {"field": "t", "type": "quantitative", "axis": null}}}
          ]
        }
      ]
    },
    {
      "title": {"text": "PESH", "offset": 19, "dx": 13},
      "bounds": "flush",
      "spacing": 91,
      "vconcat": [
        {
          "width": 881, "height": 159,
          "data": {"name": "pn"},
          "resolve": {"axis": {"x": "independent", "y": "independent"}},
          "layer": [
            {"mark": {"type": "errorbar", "color": "#2a2a2a", "thickness": 1.8},
             "encoding": {
               "x": {"field": "t", "type": "quantitative", "scale": {"domain": [2019.0, 2020.0103], "nice": false, "zero": false},
                     "axis": {"orient": "bottom", "values": [2019, 2019.1, 2019.2, 2019.3, 2019.4, 2019.5, 2019.6, 2019.7, 2019.8, 2019.9, 2020], "labelExpr": "'' + datum.value", "title": "Year"}},
               "y": {"field": "v", "type": "quantitative", "scale": {"domain": [189.5, 210], "nice": false, "zero": false},
                     "axis": {"orient": "left", "values": [190, 200, 210], "labelExpr": "'' + datum.value", "title": "North (mm)"}},
               "yError": {"field": "s"}}},
            {"mark": {"type": "point", "filled": true, "color": "#151515", "size": 40, "opacity": 1},
             "encoding": {
               "x": {"field": "t", "type": "quantitative", "axis": {"orient": "top", "values": [2019, 2019.1, 2019.2, 2019.3, 2019.4, 2019.5, 2019.6, 2019.7, 2019.8, 2019.9, 2020], "labels": false, "title": null}},
               "y": {"field": "v", "type": "quantitative", "axis": {"orient": "right", "values": [190, 200, 210], "labels": false, "title": null}}}},
            {"data": {"name": "trend"}, "transform": [{"filter": "datum.p === 'PN'"}],
             "mark": {"type": "line", "color": "#ff5a1f", "strokeWidth": 1.6, "clip": false},
             "encoding": {"x": {"field": "t", "type": "quantitative", "axis": null}, "y": {"field": "v", "type": "quantitative", "axis": null}}},
            {"data": {"name": "events"}, "transform": [{"filter": "datum.site === 'PESH' && datum.kind === 'solid'"}],
             "mark": {"type": "rule", "color": "#9a9a9a", "strokeWidth": 1.2},
             "encoding": {"x": {"field": "t", "type": "quantitative", "axis": null}}},
            {"data": {"name": "events"}, "transform": [{"filter": "datum.site === 'PESH' && datum.kind === 'dashed'"}],
             "mark": {"type": "rule", "color": "#6e6e6e", "strokeWidth": 1.8, "strokeDash": [8, 4]},
             "encoding": {"x": {"field": "t", "type": "quantitative", "axis": null}}}
          ]
        },
        {
          "width": 881, "height": 156,
          "data": {"name": "pe"},
          "resolve": {"axis": {"x": "independent", "y": "independent"}},
          "layer": [
            {"mark": {"type": "errorbar", "color": "#2a2a2a", "thickness": 1.8},
             "encoding": {
               "x": {"field": "t", "type": "quantitative", "scale": {"domain": [2019.0, 2020.0103], "nice": false, "zero": false},
                     "axis": {"orient": "bottom", "values": [2019, 2019.1, 2019.2, 2019.3, 2019.4, 2019.5, 2019.6, 2019.7, 2019.8, 2019.9, 2020], "labelExpr": "'' + datum.value", "title": "Year"}},
               "y": {"field": "v", "type": "quantitative", "scale": {"domain": [340, 380], "nice": false, "zero": false},
                     "axis": {"orient": "left", "values": [340, 360, 380], "labelExpr": "'' + datum.value", "title": "East (mm)"}},
               "yError": {"field": "s"}}},
            {"mark": {"type": "point", "filled": true, "color": "#151515", "size": 40, "opacity": 1},
             "encoding": {
               "x": {"field": "t", "type": "quantitative", "axis": {"orient": "top", "values": [2019, 2019.1, 2019.2, 2019.3, 2019.4, 2019.5, 2019.6, 2019.7, 2019.8, 2019.9, 2020], "labels": false, "title": null}},
               "y": {"field": "v", "type": "quantitative", "axis": {"orient": "right", "values": [340, 360, 380], "labels": false, "title": null}}}},
            {"data": {"name": "trend"}, "transform": [{"filter": "datum.p === 'PE'"}],
             "mark": {"type": "line", "color": "#ff5a1f", "strokeWidth": 1.6, "clip": false},
             "encoding": {"x": {"field": "t", "type": "quantitative", "axis": null}, "y": {"field": "v", "type": "quantitative", "axis": null}}},
            {"data": {"name": "events"}, "transform": [{"filter": "datum.site === 'PESH' && datum.kind === 'solid'"}],
             "mark": {"type": "rule", "color": "#9a9a9a", "strokeWidth": 1.2},
             "encoding": {"x": {"field": "t", "type": "quantitative", "axis": null}}},
            {"data": {"name": "events"}, "transform": [{"filter": "datum.site === 'PESH' && datum.kind === 'dashed'"}],
             "mark": {"type": "rule", "color": "#6e6e6e", "strokeWidth": 1.8, "strokeDash": [8, 4]},
             "encoding": {"x": {"field": "t", "type": "quantitative", "axis": null}}}
          ]
        },
        {
          "width": 881, "height": 159,
          "data": {"name": "pu"},
          "resolve": {"axis": {"x": "independent", "y": "independent"}},
          "layer": [
            {"mark": {"type": "errorbar", "color": "#2a2a2a", "thickness": 1.8},
             "encoding": {
               "x": {"field": "t", "type": "quantitative", "scale": {"domain": [2019.0, 2020.0103], "nice": false, "zero": false},
                     "axis": {"orient": "bottom", "values": [2019, 2019.1, 2019.2, 2019.3, 2019.4, 2019.5, 2019.6, 2019.7, 2019.8, 2019.9, 2020], "labelExpr": "'' + datum.value", "title": "Year"}},
               "y": {"field": "v", "type": "quantitative", "scale": {"domain": [-50, 50], "nice": false, "zero": false},
                     "axis": {"orient": "left", "values": [-50, 0, 50], "labelExpr": "'' + datum.value", "title": "Up (mm)"}},
               "yError": {"field": "s"}}},
            {"mark": {"type": "point", "filled": true, "color": "#151515", "size": 40, "opacity": 1},
             "encoding": {
               "x": {"field": "t", "type": "quantitative", "axis": {"orient": "top", "values": [2019, 2019.1, 2019.2, 2019.3, 2019.4, 2019.5, 2019.6, 2019.7, 2019.8, 2019.9, 2020], "labels": false, "title": null}},
               "y": {"field": "v", "type": "quantitative", "axis": {"orient": "right", "values": [-50, 0, 50], "labels": false, "title": null}}}},
            {"data": {"name": "trend"}, "transform": [{"filter": "datum.p === 'PU'"}],
             "mark": {"type": "line", "color": "#ff5a1f", "strokeWidth": 1.6, "clip": false},
             "encoding": {"x": {"field": "t", "type": "quantitative", "axis": null}, "y": {"field": "v", "type": "quantitative", "axis": null}}},
            {"data": {"name": "events"}, "transform": [{"filter": "datum.site === 'PESH' && datum.kind === 'solid'"}],
             "mark": {"type": "rule", "color": "#9a9a9a", "strokeWidth": 1.2},
             "encoding": {"x": {"field": "t", "type": "quantitative", "axis": null}}},
            {"data": {"name": "events"}, "transform": [{"filter": "datum.site === 'PESH' && datum.kind === 'dashed'"}],
             "mark": {"type": "rule", "color": "#6e6e6e", "strokeWidth": 1.8, "strokeDash": [8, 4]},
             "encoding": {"x": {"field": "t", "type": "quantitative", "axis": null}}}
          ]
        }
      ]
    }
  ]
}
